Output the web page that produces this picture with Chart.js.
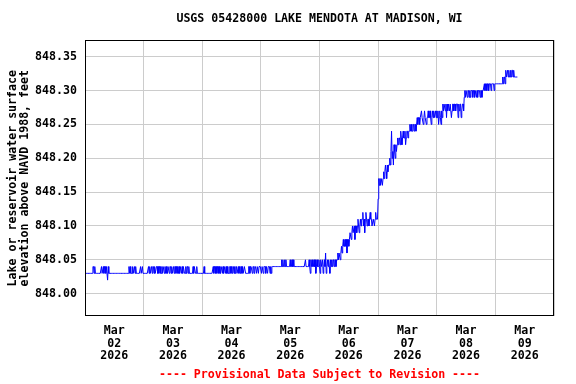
<!DOCTYPE html>
<html>
<head>
<meta charset="utf-8">
<script src="https://cdn.jsdelivr.net/npm/chart.js@4.4.1/dist/chart.umd.min.js"></script>
<style>
  html, body { margin: 0; padding: 0; background: #fff; }
  canvas { display: block; }
</style>
</head>
<body>
<canvas id="myChart" width="576" height="384"></canvas>
<script>
var titleText = 'USGS 05428000 LAKE MENDOTA AT MADISON, WI';
var yTitle = ['Lake or reservoir water surface', 'elevation above NAVD 1988, feet'];
var noteText = '---- Provisional Data Subject to Revision ----';
var monthLabel = 'Mar';
var yearLabel = '2026';
var dayLabels = ['02', '03', '04', '05', '06', '07', '08', '09'];
var yTicks = [848.00, 848.05, 848.10, 848.15, 848.20, 848.25, 848.30, 848.35];

// gage height, hundredths of a foot above 848.00, one value every 15 minutes
var mar02 = [3,3,3,3,3,3,3,3,3,3,3,3,3,
  4,4,3,4,3,
  3,3,3,3,3,3,3,3,3,
  4,3,3,4,3,4,4,3,4,4,2,4,3,
  3,3,3,3,3,3,3,3, 3,3,3,3,3,3,3,3, 3,3,3,3,3,3,3,3, 3,3,3,3,3,3,3,3,
  4,3,4, 3,3,3,
  4,3,3,4,3,4,
  3,3,3,3,3,3,3,
  4,3,3,4,3];
var mar03 = [3,3,3,3,3,3,3,3,
  4,3,4,3,3,
  4,3,4,4,3,4,3,3, 4,4,3,4,3,4,4,3, 3,4,3,4,4,3,4,3, 4,3,3,4,4,3,4,4,
  3,4,3,3,4,3,4,4, 3,4,4,3,3,4,3,4, 4,3,4,3,4,4,3,3, 4,3,4,4,3,4,3,3,
  3,3,3,3,
  4,3,4,4,3,3,4,3,3,3,3,3,3,3,3];
var mar04 = [3,3,3, 4,3,
  3,3,3,3,3,3,3,3,3,3,3,3,3,
  4,3,4,4,3,4,3,4,4,3,4,3,3,4,4, 3,
  4,3,4,4,3,4,3,4,3, 3,3,
  4,4,3,4,3,4,4,3,4,3,4,4,3, 3,
  4,3,4,3,4,4,3,4,3,3,4,4,3, 3,3,3,3,
  4,4,3,4,4,4,3,4,4,3,4,4,4,3,4,4,3,4,4,4];
var mar05 = [4,3,4,4,3,4,4,4,3,4,4,3,4,4,4,3,4,3,4,4,
  4,4,4,4,4,4,4,4,4,4,4,4,4,4,
  5,4,5,4,4,5,4,5,4,
  4,4,4,4,4,
  5,4,4,5,4,5,4,4,4,
  4,4,4,4,4,4,4,4,4,4,4,4,4,4,4,4,
  5, 4,4,4,4,4,
  5,4,3,5,4,5,4,4,5,4,5,3,4,5,4,4,5];
var mar06 = [4,3,5,4,4,5,3,4,5,4,6,3,4,5,4,5,4,3,5,4,5,4,5,5,4,5,5,4,5,5,
  6,5,6,6,5,6,
  7,6,7,8,7,7,8,7,8,6,8,8,7,8,9,
  9,8,9,10,9,9,10,8,10,10,9,10,11,10,9,10,
  11,10,11,11,12,10,11,9,11,12,11,10,11,11,10,11,12,11,11,10,10,11,11,10,11,12,11,11,11];
var mar07 = [14,17,
  16,17,16,17,17,16,17,
  18,17,18,19,18,17,19,18,19,19,
  20,19,21,24,20,21,19,22,21,20,22,21,
  22,23,22,23,23,22,24,23,22,23,24,23,23,24,22,23,24,24,23,24,
  24,25,24,25,24,24,25,25,24,25,25,24,25,
  26,25,26,26,25,26,26,27,26,26,25,26,27,26,26,25,26,26,27,26,26,27,26,25,26,27,26,27,26,26,27,26];
var mar08 = [27,26,27,25,26,27,26,25,27,26,
  28,27,28,28,27,28,26,28,27,28,28,27,28,28,26,27,28,28,27,28,28,27,28,28,28,26,28,27,28,28,26,27,28,28,27,
  29,30,29,30,30,29,30,30,29,30,29,30,30,30,29,30,30,29,30,30,29,30,29,30,30,30,29,30,30,29,30,30,30,
  31,30,31,31,30,31,31,30,31,31,31,30,31,31,31,31,30,31];
var mar09 = [31,31,31,31,31,31,31,31,31,31,31,31,
  32,31,32,32,31,33,32,32,33,32,33,32,32,33,32,33,33,32,33,32,32,32,32,32,32];

var days = [mar02, mar03, mar04, mar05, mar06, mar07, mar08, mar09];
var points = [];
days.forEach(function(arr, d) {
    arr.forEach(function(v, i) {
        points.push({ x: d + i / 96, y: 848 + v / 100 });
    });
});

var xTicks = [];
dayLabels.forEach(function(lbl, d) { xTicks.push(d); xTicks.push(d + 0.5); });
xTicks.push(dayLabels.length);

var monoFont = "'DejaVu Sans Mono', 'Liberation Mono', monospace";

// black frame round the plot area
var framePlugin = {
    id: 'frame',
    afterDraw: function(chart) {
        var a = chart.chartArea;
        var ctx = chart.ctx;
        ctx.save();
        ctx.strokeStyle = '#000';
        ctx.lineWidth = 1;
        ctx.strokeRect(Math.round(a.left) + 0.5, Math.round(a.top) + 0.5,
            Math.round(a.right - a.left) - 1, Math.round(a.bottom - a.top) - 1);
        ctx.restore();
    }
};

new Chart(document.getElementById('myChart').getContext('2d'), {
    type: 'line',
    data: {
        datasets: [{
            data: points,
            borderColor: '#0000ff',
            borderWidth: 1,
            pointRadius: 0,
            tension: 0,
            fill: false
        }]
    },
    options: {
        responsive: false,
        animation: false,
        layout: { padding: { left: 0, right: 22, top: 0, bottom: 0 } },
        plugins: {
            legend: { display: false },
            tooltip: { enabled: false },
            title: {
                display: true,
                text: titleText,
                fullSize: false,
                color: '#000',
                font: { family: monoFont, size: 11.6, weight: 'bold', lineHeight: 1 },
                padding: { top: 13, bottom: 15.4 }
            },
            subtitle: {
                display: true,
                position: 'bottom',
                text: noteText,
                fullSize: false,
                color: '#ff0000',
                font: { family: monoFont, size: 11.6, weight: 'bold', lineHeight: 1 },
                padding: { top: 3, bottom: 3 }
            }
        },
        scales: {
            x: {
                type: 'linear',
                min: 0,
                max: 8,
                afterBuildTicks: function(s) {
                    s.ticks = xTicks.map(function(v) { return { value: v }; });
                },
                afterFit: function(s) { s.height = 50; },
                border: { display: false },
                grid: {
                    drawTicks: false,
                    color: function(ctx) {
                        return (ctx.tick && ctx.tick.value % 1 === 0) ? '#cccccc' : 'rgba(0,0,0,0)';
                    }
                },
                ticks: {
                    autoSkip: false,
                    maxRotation: 0,
                    padding: 8,
                    color: '#000',
                    font: { family: monoFont, size: 11.6, weight: 'bold', lineHeight: 1.1 },
                    callback: function(v) {
                        var d = v - 0.5;
                        if (d % 1 === 0 && dayLabels[d] !== undefined) {
                            return [monthLabel, dayLabels[d], yearLabel];
                        }
                        return '';
                    }
                }
            },
            y: {
                min: 847.9664,
                max: 848.3747,
                afterBuildTicks: function(s) {
                    s.ticks = yTicks.map(function(v) { return { value: v }; });
                },
                afterFit: function(s) { s.width = 85; },
                border: { display: false },
                grid: { color: '#cccccc', drawTicks: false },
                ticks: {
                    padding: 8,
                    color: '#000',
                    font: { family: monoFont, size: 11.6, weight: 'bold' },
                    callback: function(v) { return v.toFixed(2); }
                },
                title: {
                    display: true,
                    text: yTitle,
                    color: '#000',
                    font: { family: monoFont, size: 11.6, weight: 'bold', lineHeight: 1.035 },
                    padding: { top: 7, bottom: 0 }
                }
            }
        }
    },
    plugins: [framePlugin]
});
</script>
</body>
</html>
